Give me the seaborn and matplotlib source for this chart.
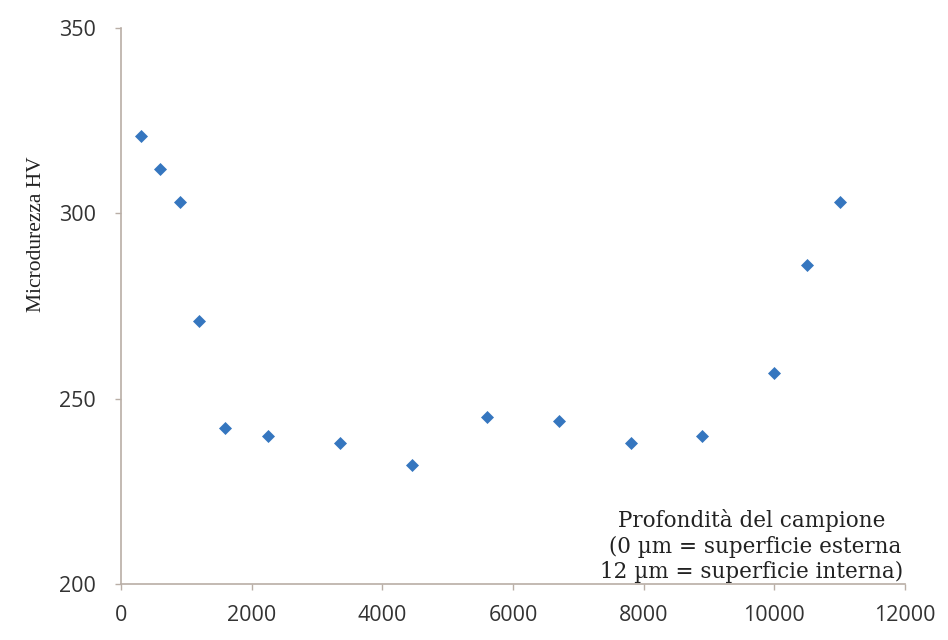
import matplotlib
matplotlib.use("Agg")
import matplotlib.pyplot as plt
import seaborn as sns
import pandas as pd

# depth (um scaled) and hardness values
profondita = [300, 600, 900, 1200, 1600, 2250, 3350, 4450, 5600, 6700, 7800, 8900, 10000, 10500, 11000]
durezza = [321, 312, 303, 271, 242, 240, 238, 232, 245, 244, 238, 240, 257, 286, 303]
x_ticks = [0, 2000, 4000, 6000, 8000, 10000, 12000]
y_ticks = [200, 250, 300, 350]

df = pd.DataFrame({"Profondita": profondita, "HV": durezza})

sns.set_theme(style="ticks")
plt.rcParams["font.family"] = ["Open Sans", "DejaVu Sans"]

fig = plt.figure(figsize=(9.48, 6.4), dpi=100)
ax = fig.add_axes([0.1276, 0.0875, 0.827, 0.8685])

sns.scatterplot(data=df, x="Profondita", y="HV", marker="D", s=44,
                color="#3576bf", edgecolor="#3576bf", linewidth=0, ax=ax)

ax.set_xlim(0, 12000)
ax.set_ylim(200, 350)
ax.set_xticks(x_ticks)
ax.set_yticks(y_ticks)
ax.set_xlabel("")
ax.set_ylabel("Microdurezza HV", family="Liberation Serif", fontsize=15.5, color="#222222")
ax.yaxis.set_label_coords(-0.095, 0.63)

sns.despine(ax=ax)
spine_col = "#b9aea6"
for side in ["left", "bottom"]:
    ax.spines[side].set_color(spine_col)
    ax.spines[side].set_linewidth(1.2)
ax.tick_params(axis="both", colors=spine_col, length=4, width=1, labelsize=15.5,
               labelcolor="#333333")
ax.tick_params(axis="x", pad=11)
ax.tick_params(axis="y", pad=14)

ax.text(0.953, 0.089, "Profondità del campione\n (0 µm = superficie esterna\n12 µm = superficie interna)",
        transform=fig.transFigure, ha="right", va="bottom", multialignment="center",
        family="DejaVu Serif", fontsize=15.5, color="#222222", linespacing=1.2)

fig.savefig("out.png", dpi=100)
